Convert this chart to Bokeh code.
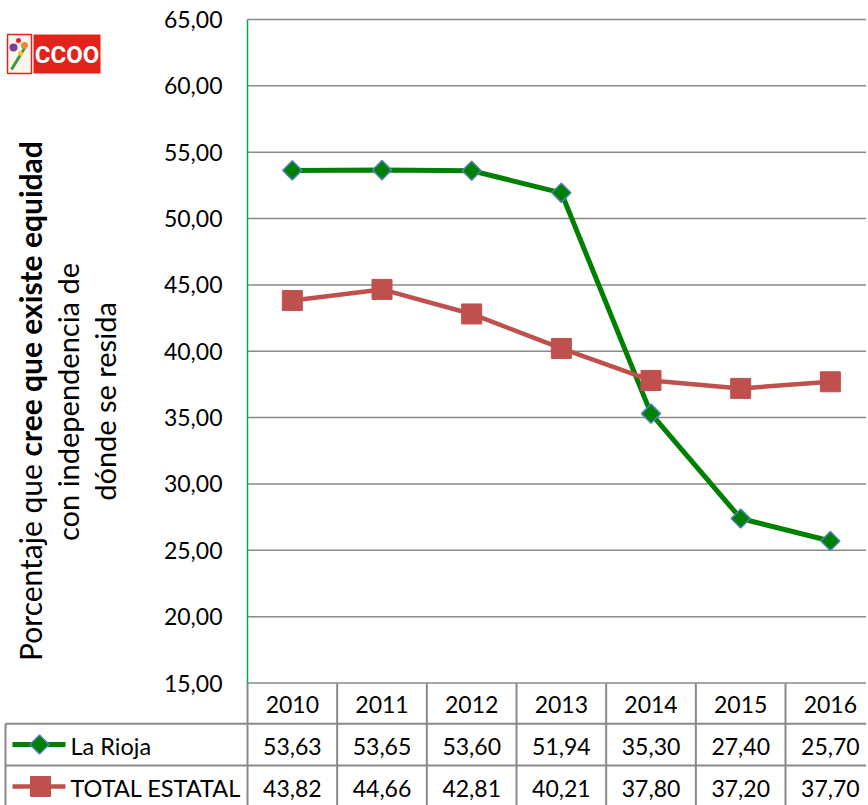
from bokeh.plotting import figure
from bokeh.models import Range1d, FixedTicker, CustomJSTickFormatter, Label, LinearAxis
from bokeh.embed import file_html
from bokeh.resources import INLINE
from bokeh.core.properties import value

# ---- data ----
years = ["2010", "2011", "2012", "2013", "2014", "2015", "2016"]
la_rioja = [53.63, 53.65, 53.60, 51.94, 35.30, 27.40, 25.70]
total_estatal = [43.82, 44.66, 42.81, 40.21, 37.80, 37.20, 37.70]
series_names = ["La Rioja", "TOTAL ESTATAL"]
y_ticks = [15, 20, 25, 30, 35, 40, 45, 50, 55, 60, 65]
ylabel_normal = "Porcentaje que "
ylabel_bold = "cree que existe  equidad"
ylabel_line2 = "con independencia de"
ylabel_line3 = "dónde se resida"
logo_text = "CCOO"

# ---- style ----
FONT = "Lato"
GREEN = "#008000"
BLUE_EDGE = "#4f81bd"
RED = "#c0504d"
GRID = "#898989"
AXIS_GREEN = "#00b050"
LOGO_RED = "#e2231a"

W, H = 866, 805
PLOT_L = 247          # px of plot-area left edge
PLOT_T = 19           # px of the 65 gridline
PLOT_B = 682.5        # px of the 15 gridline
PX_X = 89.67          # px per category
PX_Y = (PLOT_B - PLOT_T) / (y_ticks[-1] - y_ticks[0])

xs = list(range(len(years)))
x0 = -0.5 - PLOT_L / PX_X
x1 = -0.5 + (W - PLOT_L) / PX_X
y0 = y_ticks[0] - (H - PLOT_B) / PX_Y
y1 = y_ticks[-1] + PLOT_T / PX_Y


def cx(px):
    return x0 + px / PX_X


def cy(py):
    return y_ticks[0] + (PLOT_B - py) / PX_Y


def fmt(v):
    return f"{v:.2f}".replace(".", ",")


p = figure(width=W, height=H, output_backend="svg", toolbar_location=None,
           x_range=Range1d(x0, x1), y_range=Range1d(y0, y1),
           x_axis_location=None, y_axis_location=None, min_border=0)
p.outline_line_color = None
p.grid.visible = False
p.background_fill_color = "white"
p.border_fill_color = "white"

# y axis at the plot-area left edge
ya = LinearAxis(fixed_location=-0.5, bounds=(y_ticks[0], y_ticks[-1]),
                ticker=FixedTicker(ticks=y_ticks),
                formatter=CustomJSTickFormatter(code="return tick.toFixed(2).replace('.', ',');"))
ya.axis_line_color = AXIS_GREEN
ya.axis_line_width = 1.5
ya.major_tick_line_color = None
ya.major_tick_out = 0
ya.major_tick_in = 0
ya.minor_tick_line_color = None
ya.major_label_text_font = FONT
ya.major_label_text_font_size = "23px"
ya.major_label_text_color = "black"
ya.major_label_standoff = 25

# x axis (header row of the data table)
xa = LinearAxis(fixed_location=y_ticks[0], ticker=FixedTicker(ticks=xs))
xa.major_label_overrides = {i: y for i, y in zip(xs, years)}
xa.axis_line_color = None
xa.major_tick_line_color = None
xa.major_tick_out = 0
xa.major_tick_in = 0
xa.minor_tick_line_color = None
xa.major_label_text_font = FONT
xa.major_label_text_font_size = "23px"
xa.major_label_text_color = "black"
xa.major_label_standoff = 13

# horizontal gridlines of the plot area
p.segment(x0=[-0.5] * len(y_ticks), y0=y_ticks, x1=[x1] * len(y_ticks), y1=y_ticks,
          line_color=GRID, line_width=1.5)

# data table grid
x_left = cx(5)
row_lines = [cy(723.3), cy(765)]
row_text = [cy(745.5), cy(787.5)]
row_keys = [cy(744), cy(786)]
p.segment(x0=[x_left] * 2, y0=row_lines, x1=[x1] * 2, y1=row_lines, line_color=GRID, line_width=2)
vx = [i - 0.5 for i in xs]
p.segment(x0=vx, y0=[y0] * len(vx), x1=vx, y1=[y_ticks[0]] * len(vx), line_color=GRID, line_width=2)
p.segment(x0=[x_left], y0=[y0], x1=[x_left], y1=[row_lines[0]], line_color=GRID, line_width=2)

p.add_layout(ya, "left")
p.add_layout(xa, "below")

# series
p.line(xs, la_rioja, line_color=GREEN, line_width=5)
p.scatter(xs, la_rioja, marker="square", angle=0.785398, size=13.5,
          fill_color=GREEN, line_color=BLUE_EDGE, line_width=1.5)
p.line(xs, total_estatal, line_color=RED, line_width=4.5)
p.scatter(xs, total_estatal, marker="square", size=20,
          fill_color=RED, line_color=RED, line_width=1)

# table values
for vals, yc in zip([la_rioja, total_estatal], row_text):
    p.text(x=xs, y=[yc] * len(xs), text=[fmt(v) for v in vals], text_align="center",
           text_baseline="middle", text_font=value(FONT), text_font_size=value("23px"),
           text_color="black")

# legend keys in the table
p.line([cx(12), cx(65)], [row_keys[0]] * 2, line_color=GREEN, line_width=5)
p.scatter([cx(39)], [row_keys[0]], marker="square", angle=0.785398, size=13.5,
          fill_color=GREEN, line_color=BLUE_EDGE, line_width=1.5)
p.line([cx(12), cx(65)], [row_keys[1]] * 2, line_color=RED, line_width=4.5)
p.scatter([cx(40)], [row_keys[1]], marker="square", size=20, fill_color=RED, line_color=RED)
p.text(x=[cx(70)] * 2, y=row_text, text=series_names, text_align="left",
       text_baseline="middle", text_font=value(FONT), text_font_size=value("23.5px"),
       text_color="black")

# rotated y label (mixed bold)
common = dict(angle=90, angle_units="deg", text_font=FONT, text_color="black",
              text_baseline="alphabetic")
J = 456
p.add_layout(Label(x=cx(29), y=cy(J), text=ylabel_normal, text_align="right",
                   text_font_size="30px", **common))
p.add_layout(Label(x=cx(29), y=cy(J), text=ylabel_bold, text_align="left",
                   text_font_style="bold", text_font_size="30px", **common))
p.add_layout(Label(x=cx(66.5), y=cy(401.5), text=ylabel_line2, text_align="center",
                   text_font_size="29px", **common))
p.add_layout(Label(x=cx(104), y=cy(401), text=ylabel_line3, text_align="center",
                   text_font_size="29px", **common))

# logo (red CCOO block plus small flower emblem)
p.rect([cx(66.5)], [cy(53.5)], width=67, height=39, width_units="screen", height_units="screen",
       fill_color=LOGO_RED, line_color=None)
p.text([cx(66.5)], [cy(54)], text=[logo_text], text_align="center", text_baseline="middle",
       text_font=value("Roboto"), text_font_style="bold", text_font_size=value("24px"),
       text_color="white")
p.rect([cx(19)], [cy(53.5)], width=24, height=39, width_units="screen", height_units="screen",
       fill_color="#fdf6ee", line_color=LOGO_RED, line_width=1.5)
p.line([cx(11), cx(25)], [cy(69), cy(46)], line_color="#3a9a3a", line_width=3)
p.scatter([cx(13), cx(24), cx(18), cx(20)], [cy(47), cy(45), cy(40), cy(53)],
          size=[8, 7, 5, 5], fill_color=["#7e3f98", "#e88a2e", "#d8232a", "#f2c12e"],
          line_color=None)

open("out.html", "w").write(file_html(p, INLINE))
